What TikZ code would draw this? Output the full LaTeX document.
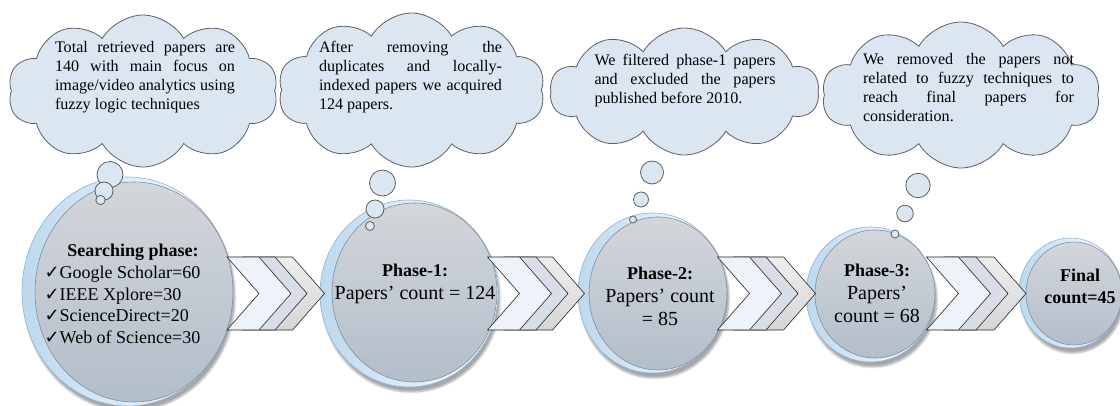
\documentclass[tikz,border=0pt]{standalone}
\usepackage{fontspec}
\setmainfont{Liberation Serif}
\newfontfamily\symfont{DejaVu Sans}
\usetikzlibrary{shapes.geometric, shapes.symbols, positioning, shadows.blur}
\definecolor{cloudfill}{HTML}{DCE6F2}
\definecolor{cloudline}{HTML}{5F5F5F}
\definecolor{rimblue}{HTML}{BDD8EE}
\definecolor{rimline}{HTML}{8DB3D5}
\definecolor{facetop}{HTML}{D3D6DA}
\definecolor{facebot}{HTML}{B3BECA}
\definecolor{faceline}{HTML}{7C90A6}
\definecolor{chevA}{HTML}{EEF2F9}
\definecolor{chevB}{HTML}{D8DEE7}
\definecolor{chevCtop}{HTML}{EEEEEE}
\definecolor{chevCbot}{HTML}{D6D6D6}
\definecolor{chevline}{HTML}{262626}
\newcommand{\cloudpar}[2]{\parbox{#1}{\hyphenpenalty=10000\relax #2}}
\tikzset{
  cloudbox/.style={cloud, cloud puffs=10, cloud puff arc=120, cloud ignores aspect,
                   draw=cloudline, fill=cloudfill, line width=0.8pt, inner sep=0pt},
  cloudtext/.style={inner sep=0pt, font=\fontsize{16.1}{19}\selectfont},
  bubble/.style={circle, draw=cloudline, fill=cloudfill, line width=0.8pt, inner sep=0pt},
  discrim/.style={ellipse, draw=rimline, line width=0.6pt, inner sep=0pt,
                  left color=rimblue, right color=white,
                  blur shadow={shadow xshift=2pt, shadow yshift=-5pt,
                               shadow blur steps=6, shadow opacity=35}},
  discface/.style={ellipse, draw=faceline, line width=0.6pt, inner sep=0pt,
                   top color=facetop, bottom color=facebot},
  disctext/.style={align=center, inner sep=0pt, font=\fontsize{20}{23}\selectfont},
  disctitle/.style={font=\fontsize{18}{22}\selectfont\bfseries},
  chev/.style={signal, signal to=east, signal from=west, signal pointer angle=97.5,
               draw=chevline, line width=0.6pt, minimum height=73pt, inner sep=0pt},
  chevfront/.style={chev, fill=chevA},
  chevmid/.style={chev, fill=chevB},
  chevback/.style={chev, top color=chevCtop, bottom color=chevCbot},
}

\begin{document}
\begin{tikzpicture}[x=1pt, y=-1pt]
  \useasboundingbox (0,0) rectangle (1120,406);

  % thought clouds
  \node[cloudbox, minimum width=270pt, minimum height=152pt] (c1) at (143,91) {};
  \node[cloudbox, minimum width=267pt, minimum height=154pt] (c2) at (411.5,90) {};
  \node[cloudbox, minimum width=269pt, minimum height=127pt] (c3) at (684.5,91.5) {};
  \node[cloudbox, minimum width=278pt, minimum height=146pt] (c4) at (961,95) {};

  \node[cloudtext] (c1txt) at (145,77.5)
    {\cloudpar{180pt}{Total retrieved papers are\linebreak 140 with main focus on\linebreak image/video analytics using\linebreak fuzzy logic techniques}};
  \node[cloudtext] (c2txt) at (410.5,77)
    {\cloudpar{183pt}{After removing the\linebreak duplicates and locally-\linebreak indexed papers we acquired\linebreak 124 papers.}};
  \node[cloudtext] (c3txt) at (685,81)
    {\cloudpar{181pt}{We filtered phase-1 papers\linebreak and excluded the papers\linebreak published before 2010.}};
  \node[cloudtext] (c4txt) at (968.5,88)
    {\cloudpar{211pt}{We removed the papers not\linebreak related to fuzzy techniques to\linebreak reach final papers for\linebreak consideration.}};

  % discs
  \node[discrim, minimum width=211pt, minimum height=229pt] (d1rim) at (127.5,291.5) {};
  \node[discface, minimum width=198pt, minimum height=220pt] (d1) at (134,292) {};
  \node[discrim, minimum width=178pt, minimum height=187pt] (d2rim) at (409,293.5) {};
  \node[discface, minimum width=165pt, minimum height=179pt] (d2) at (414.5,292.5) {};
  \node[discrim, minimum width=149pt, minimum height=160pt] (d3rim) at (652.5,293) {};
  \node[discface, minimum width=138pt, minimum height=153pt] (d3) at (658,293.5) {};
  \node[discrim, minimum width=129pt, minimum height=135pt] (d4rim) at (870.5,294.5) {};
  \node[discface, minimum width=120pt, minimum height=128pt] (d4) at (875,294) {};
  \node[discrim, minimum width=103pt, minimum height=110pt] (d5rim) at (1070.5,293) {};
  \node[discface, minimum width=96pt, minimum height=103pt] (d5) at (1074,293.5) {};

  \node[disctitle] (d1title) at (133,252) {Searching phase:};
  \node[align=left, inner sep=0pt, font=\fontsize{18}{21.5}\selectfont] (d1list) at (122.5,305)
    {{\symfont ✓}Google Scholar=60\\{\symfont ✓}IEEE Xplore=30\\
     {\symfont ✓}ScienceDirect=20\\{\symfont ✓}Web of Science=30};
  \node[disctext] (d2txt) at (415,284)
    {{\fontsize{18}{23}\selectfont\bfseries Phase-1:}\\Papers’ count = 124};
  \node[disctext] (d3txt) at (660,296)
    {{\fontsize{18}{23}\selectfont\bfseries Phase-2:}\\Papers’ count\\= 85};
  \node[disctext] (d4txt) at (877,293.5)
    {{\fontsize{18}{23}\selectfont\bfseries Phase-3:}\\Papers’\\count = 68};
  \node[disctext, font=\fontsize{18}{22}\selectfont\bfseries] (d5txt) at (1080,286)
    {Final\\count=45};

  % chevrons between discs
  \node[chevback,  minimum width=55pt] (g1c) at (292.5,293.5) {};
  \node[chevmid,   minimum width=44pt] (g1b) at (275,293.5) {};
  \node[chevfront, minimum width=52pt] (g1a) at (259,293.5) {};
  \node[chevback,  minimum width=45pt] (g2c) at (552.5,293.5) {};
  \node[chevmid,   minimum width=52pt] (g2b) at (536,293.5) {};
  \node[chevfront, minimum width=45pt] (g2a) at (519.5,293.5) {};
  \node[chevback,  minimum width=47pt] (g3c) at (783.5,293.5) {};
  \node[chevmid,   minimum width=52pt] (g3b) at (766,293.5) {};
  \node[chevfront, minimum width=45pt] (g3a) at (749.5,293.5) {};
  \node[chevback,  minimum width=48pt] (g4c) at (994,293.5) {};
  \node[chevmid,   minimum width=52pt] (g4b) at (976,293.5) {};
  \node[chevfront, minimum width=47pt] (g4a) at (958.5,293.5) {};

  % thought bubbles from clouds down to discs
  \foreach \bx/\by/\br/\bn in {110/174.5/13/b11, 104/191/9/b12, 100.5/200/4.7/b13,
                                382.5/183/13/b21, 375/209/9/b22, 370/226/4.5/b23,
                                652/172.5/11.5/b31, 641/199.5/7.5/b32, 633/219.5/3.5/b33,
                                918/185.5/12.2/b41, 905/213.5/8.3/b42, 895/234/4/b43}
    \node[bubble, minimum size=2*\br pt] (\bn) at (\bx,\by) {};
\end{tikzpicture}
\end{document}
